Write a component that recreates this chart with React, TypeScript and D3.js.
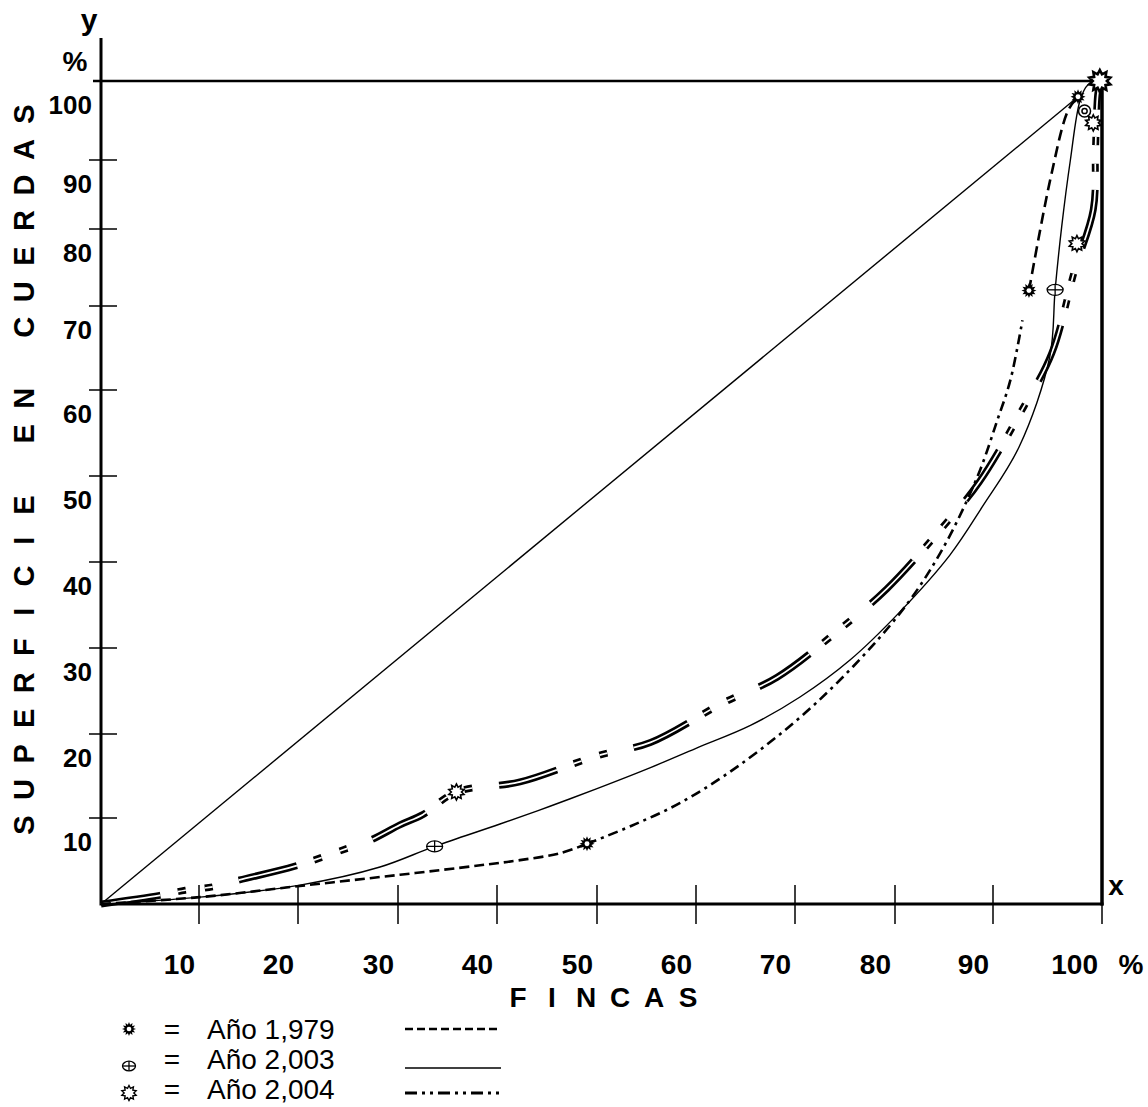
import * as d3 from "d3";

// Lorenz curves: % of farms (x) against % of land in cuerdas (y)
const X_TICKS = [10, 20, 30, 40, 50, 60, 70, 80, 90, 100];
const Y_TICKS = [10, 20, 30, 40, 50, 60, 70, 80, 90];
const Y_LABELS = [10, 20, 30, 40, 50, 60, 70, 80, 90, 100];

const equality: [number, number][] = [[0, 0], [97.8, 98.0]];

// Año 1,979: dashed start, dash-dot middle, dashed end
const curve1979a: [number, number][] = [
  [0, 0], [10.1, 0.8], [20.2, 2.1], [30.2, 3.4], [38.3, 4.5], [42.3, 5.1], [46.3, 5.9], [49.0, 7.0],
];
const curve1979b: [number, number][] = [
  [49.0, 7.0], [53.5, 9.1], [58.4, 11.8], [64.4, 16.3], [72.2, 23.7], [80.2, 33.6], [84.6, 41.0],
  [88.4, 49.9], [90.4, 56.5], [91.6, 61.2], [92.7, 68.3],
];
const curve1979c: [number, number][] = [[93.3, 72.0], [95.3, 87.5], [96.9, 96.3], [97.8, 98.0]];
const marks1979: [number, number][] = [[49.0, 7.0], [93.3, 72.0], [97.8, 98.0]];

// Año 2,003
const curve2003: [number, number][] = [
  [0, 0], [10.1, 0.8], [20.2, 2.2], [28.2, 4.3], [33.7, 6.7], [40.3, 9.3], [45.3, 11.4],
  [50.0, 13.5], [55.4, 16.0], [60.0, 18.3], [65.5, 21.0], [70.5, 24.3], [75.5, 28.6],
  [80.5, 34.2], [85.6, 40.8], [88.9, 46.4], [92.4, 53.4], [95.2, 63.9], [95.7, 72.1],
  [96.3, 80.3], [97.1, 90.0], [98.0, 97.6], [98.7, 99.5], [99.8, 100],
];
const marks2003: [number, number][] = [[33.7, 6.7], [95.7, 72.1]];
const ring2003: [number, number][] = [[98.4, 96.2]];

// Año 2,004
const curve2004: [number, number][] = [
  [0, 0], [6.0, 1.0], [8.6, 1.6], [11.4, 2.0], [14.1, 2.8], [19.7, 4.4], [25.0, 6.5],
  [27.2, 7.4], [30.2, 9.2], [32.5, 10.4], [35.9, 13.1], [42.3, 14.3], [50.0, 17.4],
  [55.4, 19.0], [62.7, 23.6], [68.2, 26.6], [74.7, 32.4], [79.2, 36.9], [84.9, 44.1],
  [88.6, 49.3], [92.8, 58.0], [95.4, 64.4], [97.5, 74.7], [99.2, 82.8], [99.4, 91.3],
  [99.6, 98.2], [99.8, 100],
];
const marks2004: [number, number][] = [[35.9, 13.1], [97.7, 78.1], [99.2, 94.7], [99.8, 100]];

const LEGEND = ["Año 1,979", "Año 2,003", "Año 2,004"];
const Y_TITLE = "SUPERFICIE EN CUERDAS";
const X_TITLE = "FINCAS";

const FONT = "'Liberation Sans', Arial, Helvetica, sans-serif";

function starPath(cx: number, cy: number, n: number, ro: number, ri: number) {
  const pts: string[] = [];
  for (let i = 0; i < n * 2; i++) {
    const r = i % 2 === 0 ? ro : ri;
    const a = (Math.PI * i) / n - Math.PI / 2;
    pts.push(`${(cx + r * Math.cos(a)).toFixed(2)},${(cy + r * Math.sin(a)).toFixed(2)}`);
  }
  return `M${pts.join("L")}Z`;
}

function Sun({ cx, cy, r = 7.5 }: { cx: number; cy: number; r?: number }) {
  return (
    <g>
      <path d={starPath(cx, cy, 12, r, r * 0.62)} fill="#000" />
      <circle cx={cx} cy={cy} r={r * 0.33} fill="#fff" />
    </g>
  );
}

function OpenStar({ cx, cy, r = 8, w = 1.6 }: { cx: number; cy: number; r?: number; w?: number }) {
  return <path d={starPath(cx, cy, 10, r, r * 0.64)} fill="#fff" stroke="#000" strokeWidth={w} />;
}

function CrossOval({ cx, cy, rx = 8, ry = 5.5 }: { cx: number; cy: number; rx?: number; ry?: number }) {
  return (
    <g stroke="#000" strokeWidth={1.3} fill="#fff">
      <ellipse cx={cx} cy={cy} rx={rx} ry={ry} />
      <line x1={cx - rx} x2={cx + rx} y1={cy} y2={cy} />
      <line x1={cx} x2={cx} y1={cy - ry} y2={cy + ry} />
    </g>
  );
}

export default function App() {
  // the hand-drawn grid is not evenly spaced, so the scales are piecewise
  const x = d3
    .scaleLinear()
    .domain([0, 10, 20, 30, 40, 50, 60, 70, 80, 90, 100])
    .range([101, 199, 298, 398, 497, 597, 696, 795, 895, 993, 1102]);
  const y = d3
    .scaleLinear()
    .domain([0, 10, 20, 30, 40, 50, 60, 70, 80, 90, 100])
    .range([904, 818, 734, 648, 562, 476, 390, 306, 229, 160, 81]);

  const line = d3
    .line<[number, number]>()
    .x((d) => x(d[0]))
    .y((d) => y(d[1]))
    .curve(d3.curveCatmullRom.alpha(0.5));
  const straight = d3
    .line<[number, number]>()
    .x((d) => x(d[0]))
    .y((d) => y(d[1]));

  const doubleDash = "60 18 8 19 8 27";
  const titleChars = Y_TITLE.split("");
  const titleStep = (825 - 114) / (titleChars.length - 1);
  const legendRows = [1039, 1069, 1099];

  return (
    <svg
      width={1148}
      height={1107}
      style={{ position: "absolute", left: 0, top: 0, display: "block", background: "#fff" }}
      fontFamily={FONT}
    >
      <rect width={1148} height={1107} fill="#fff" />

      {/* frame */}
      <line x1={101} x2={101} y1={38} y2={y(0) + 1.5} stroke="#000" strokeWidth={3} />
      <line x1={101} x2={x(100) + 1.5} y1={y(0)} y2={y(0)} stroke="#000" strokeWidth={3} />
      <line x1={x(100)} x2={x(100)} y1={y(100)} y2={y(0) + 1.5} stroke="#000" strokeWidth={3.5} />
      <line x1={93} x2={x(100)} y1={y(100)} y2={y(100)} stroke="#000" strokeWidth={2.5} />

      {Y_TICKS.map((t) => (
        <line key={t} x1={89} x2={117} y1={y(t)} y2={y(t)} stroke="#000" strokeWidth={1.5} />
      ))}
      {X_TICKS.map((t) => (
        <line
          key={t}
          x1={x(t)}
          x2={x(t)}
          y1={t === 100 ? y(0) : y(0) - 19}
          y2={y(0) + 20}
          stroke="#000"
          strokeWidth={1.5}
        />
      ))}

      {Y_LABELS.map((t) => (
        <text
          key={t}
          x={92}
          y={y(t) + 24}
          textAnchor="end"
          dominantBaseline="central"
          fontSize={26}
          fontWeight="bold"
        >
          {t}
        </text>
      ))}
      {X_TICKS.map((t) => (
        <text key={t} x={x(t) - 4} y={974} textAnchor="end" fontSize={28} fontWeight="bold">
          {t}
        </text>
      ))}

      <text x={89} y={30} textAnchor="middle" fontSize={30} fontWeight="bold">y</text>
      <text x={75} y={71} textAnchor="middle" fontSize={28} fontWeight="bold">%</text>
      <text x={1116} y={895} textAnchor="middle" fontSize={28} fontWeight="bold">x</text>
      <text x={1131} y={974} textAnchor="middle" fontSize={28} fontWeight="bold">%</text>

      {X_TITLE.split("").map((c, i) => (
        <text key={i} x={518 + i * 34} y={1007} textAnchor="middle" fontSize={28} fontWeight="bold">
          {c}
        </text>
      ))}
      {titleChars.map((c, i) => (
        <text
          key={i}
          transform={`translate(24,${825 - i * titleStep}) rotate(-90)`}
          textAnchor="middle"
          dominantBaseline="central"
          fontSize={29}
          fontWeight="bold"
        >
          {c}
        </text>
      ))}

      {/* line of equality */}
      <path d={straight(equality) ?? ""} fill="none" stroke="#000" strokeWidth={1.4} />

      {/* 2004: double dash-dot-dot */}
      <path d={line(curve2004) ?? ""} fill="none" stroke="#000" strokeWidth={7} strokeDasharray={doubleDash} />
      <path d={line(curve2004) ?? ""} fill="none" stroke="#fff" strokeWidth={1.7} strokeDasharray={doubleDash} />

      {/* 2003: solid */}
      <path d={line(curve2003) ?? ""} fill="none" stroke="#000" strokeWidth={1.4} />

      {/* 1979 */}
      <path d={line(curve1979a) ?? ""} fill="none" stroke="#000" strokeWidth={2.6} strokeDasharray="10 5" />
      <path d={line(curve1979b) ?? ""} fill="none" stroke="#000" strokeWidth={2.6} strokeDasharray="10 5 3 5" />
      <path d={line(curve1979c) ?? ""} fill="none" stroke="#000" strokeWidth={2.6} strokeDasharray="11 6" />

      {marks2003.map((d, i) => (
        <CrossOval key={i} cx={x(d[0])} cy={y(d[1])} />
      ))}
      {ring2003.map((d, i) => (
        <g key={i} fill="#fff" stroke="#000" strokeWidth={1.5}>
          <circle cx={x(d[0])} cy={y(d[1])} r={6} />
          <circle cx={x(d[0])} cy={y(d[1])} r={2.6} />
        </g>
      ))}
      {marks2004.map((d, i) =>
        i === marks2004.length - 1 ? (
          <OpenStar key={i} cx={x(d[0])} cy={y(d[1])} r={11} w={2.6} />
        ) : (
          <OpenStar key={i} cx={x(d[0])} cy={y(d[1])} />
        )
      )}
      {marks1979.map((d, i) => (
        <Sun key={i} cx={x(d[0])} cy={y(d[1])} />
      ))}

      {/* legend */}
      <Sun cx={129} cy={1029} r={7} />
      <CrossOval cx={129} cy={1066} rx={6.5} ry={4.8} />
      <OpenStar cx={129} cy={1093} r={7.5} w={1.4} />
      {LEGEND.map((name, i) => (
        <g key={name}>
          <text x={172} y={legendRows[i]} textAnchor="middle" fontSize={28}>=</text>
          <text x={207} y={legendRows[i]} fontSize={28}>{name}</text>
        </g>
      ))}
      <line x1={405} x2={501} y1={1029} y2={1029} stroke="#000" strokeWidth={2.6} strokeDasharray="8 4" />
      <line x1={405} x2={501} y1={1068} y2={1068} stroke="#000" strokeWidth={1.3} />
      <line x1={405} x2={501} y1={1093} y2={1093} stroke="#000" strokeWidth={3} strokeDasharray="12 5 3 5 3 5" />
    </svg>
  );
}
